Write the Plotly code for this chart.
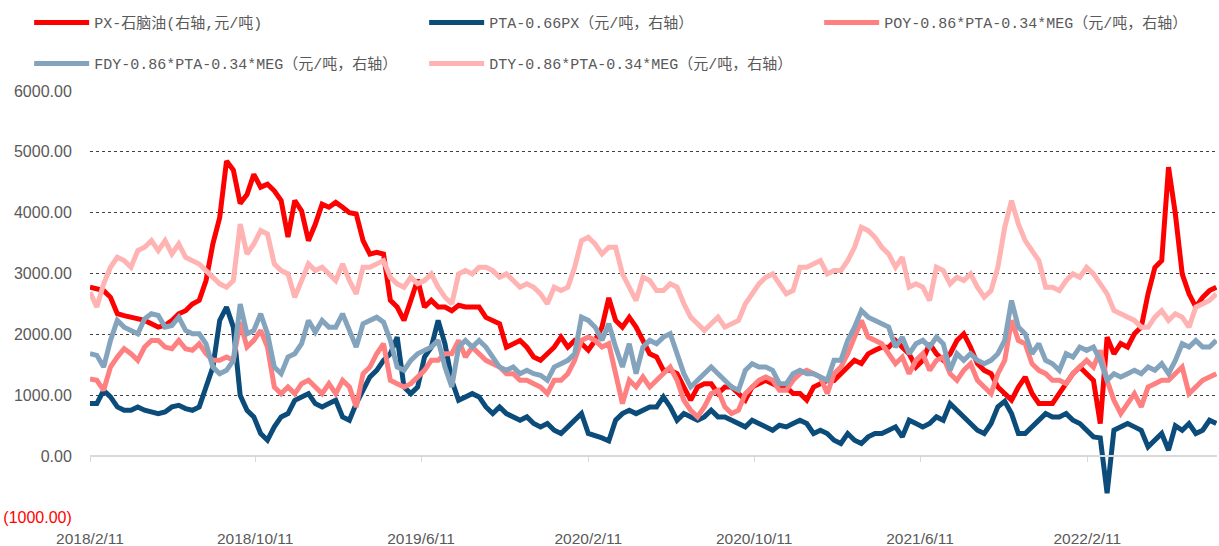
import pandas as pd
import plotly.graph_objects as go

# ---------------- data (10-day sampling grid starting 2018-02-11) ----------------
start_date = "2018-02-11"
step = "10D"

px_naphtha = [
    2776, 2750, 2720, 2610, 2340, 2310, 2280, 2260, 2230, 2175, 2120, 2150, 2230, 2340, 2390,
    2500, 2560, 2885, 3490, 3920, 4850, 4700, 4150, 4300, 4630, 4420, 4470, 4360, 4200,
    3600, 4200, 4030, 3540, 3810, 4140, 4090, 4170, 4090, 4000, 3980, 3540, 3320, 3350, 3320,
    2560, 2450, 2230, 2560, 2900, 2450, 2560, 2450, 2450, 2390, 2480, 2450,
    2450, 2450, 2280, 2230, 2175, 1790, 1850, 1900, 1790, 1630, 1575, 1680, 1790, 1955, 1790,
    1900, 1850, 1740, 1900, 2120, 2600, 2230, 2120, 2280, 2120, 1900, 1680,
    1630, 1410, 1410, 1355, 1135, 920, 1135, 1190, 1190, 1030, 1135, 1135, 1030, 920, 1135,
    1190, 1245, 1190, 1135, 1135, 1030, 1030, 920, 1135, 1190, 1245, 1245,
    1355, 1465, 1575, 1520, 1680, 1740, 1790, 1790, 1900, 1790, 1680, 1465, 1575, 1850, 1680,
    1575, 1680, 1900, 2010, 1790, 1520, 1410, 1355, 1135, 1030, 920, 1135,
    1300, 1030, 865, 865, 865, 1030, 1190, 1355, 1465, 1355, 1245, 536, 1955, 1680, 1850,
    1790, 2010, 2120, 2667, 3100, 3213, 4750, 3980, 2995, 2667, 2450, 2610, 2720, 2776,
]

pta_spread = [
    863, 863, 1080, 973, 809, 754, 754, 809, 754, 727, 699, 727, 809, 836, 781,
    754, 809, 1137, 1464, 2230, 2448, 2120, 1000, 754, 645, 372, 262, 481, 645,
    699, 918, 973, 1027, 863, 809, 863, 918, 645, 590, 863, 1082, 1301, 1410, 1574,
    1683, 1956, 1137, 1027, 1137, 1628, 1792, 2230, 1847, 1246, 918, 973,
    1027, 973, 809, 699, 809, 699, 645, 590, 645, 536, 481, 536, 426, 372, 481,
    590, 700, 372, 344, 300, 250, 590, 699, 754, 699, 754, 809,
    809, 973, 809, 590, 699, 645, 590, 645, 754, 645, 645, 590, 536, 481, 590,
    536, 481, 426, 508, 481, 536, 590, 536, 372, 426, 372, 262,
    208, 372, 262, 208, 317, 372, 372, 426, 481, 317, 590, 536, 481, 536, 645,
    590, 863, 754, 645, 536, 426, 372, 536, 809, 900, 699, 372,
    372, 481, 590, 699, 645, 645, 699, 590, 536, 426, 317, 300, -610, 426, 481,
    536, 481, 426, 153, 262, 372, 98, 500, 426, 536, 372, 426, 590, 536,
]

poy_spread = [
    1270, 1246, 1082, 1464, 1628, 1765, 1683, 1574, 1792, 1902, 1902, 1792, 1765, 1902, 1765,
    1738, 1847, 1683, 1574, 1574, 1628, 1574, 2200, 1792, 1902, 2066, 1792, 1137, 1027,
    1137, 1027, 1191, 1246, 1137, 1027, 1191, 1027, 1246, 1137, 809, 1355, 1464, 1683, 1847,
    1246, 1191, 1137, 1191, 1301, 1410, 1574, 1574, 1683, 1683, 1902, 1628,
    1792, 1683, 1574, 1519, 1464, 1355, 1355, 1246, 1246, 1191, 1137, 1027, 1246, 1246, 1355,
    1574, 1902, 1956, 1902, 1792, 1847, 1355, 863, 1246, 1137, 1301, 1137,
    1246, 1355, 1464, 1246, 918, 754, 645, 809, 1027, 1082, 809, 699, 754, 1027, 1137,
    1246, 1301, 1246, 1082, 1082, 1246, 1355, 1410, 1355, 1301, 1027, 1355,
    1464, 1683, 1956, 2230, 1956, 1902, 1847, 1683, 1519, 1628, 1355, 1574, 1683, 1410, 1574,
    1628, 1355, 1246, 1410, 1519, 1246, 1137, 1027, 1355, 1574, 2230, 1902,
    1847, 1519, 1410, 1355, 1246, 1246, 1191, 1355, 1464, 1574, 1464, 1738, 1246, 918, 699,
    863, 1027, 809, 1137, 1191, 1246, 1246, 1355, 1464, 1027, 1137, 1246, 1301, 1355,
]

fdy_spread = [
    1683, 1656, 1464, 1902, 2230, 2120, 2066, 2011, 2257, 2339, 2311, 2120, 2148, 2284, 2066,
    2011, 2011, 1847, 1464, 1355, 1410, 1574, 2500, 2011, 2066, 2339, 2011, 1464, 1355,
    1628, 1683, 1847, 2230, 2038, 2230, 2120, 2120, 2339, 2066, 1792, 2175, 2230, 2284, 2202,
    1902, 1464, 1410, 1574, 1683, 1738, 1792, 1902, 1464, 1137, 1792, 1902,
    1792, 1902, 1792, 1628, 1464, 1410, 1464, 1355, 1410, 1355, 1328, 1246, 1464, 1519, 1574,
    1683, 2284, 2230, 2120, 1902, 2175, 1792, 1464, 1847, 1355, 1792, 1902,
    1847, 1956, 2011, 1683, 1355, 1137, 1246, 1355, 1464, 1355, 1246, 1137, 1082, 1410, 1519,
    1464, 1464, 1410, 1191, 1191, 1355, 1410, 1355, 1355, 1301, 1246, 1574,
    1574, 1902, 2120, 2393, 2284, 2230, 2175, 2120, 1792, 1956, 1683, 1847, 1902, 1792, 1956,
    1847, 1410, 1683, 1574, 1683, 1574, 1519, 1574, 1683, 1902, 2557, 2120,
    2011, 1683, 1847, 1574, 1519, 1410, 1683, 1628, 1792, 1738, 1792, 1574, 1246, 1355, 1301,
    1355, 1410, 1355, 1464, 1410, 1519, 1355, 1574, 1847, 1792, 1902, 1792, 1792, 1902,
]

dty_spread = [
    2694, 2450, 2831, 3104, 3268, 3213, 3104, 3377, 3432, 3541, 3377, 3541, 3322, 3486, 3268,
    3213, 3158, 3049, 2940, 2831, 2776, 2885, 3814, 3322, 3486, 3705, 3650, 3158, 3049,
    2995, 2612, 2885, 3158, 3049, 3104, 2995, 2885, 3158, 2885, 2667, 3104, 3104, 3158, 3213,
    2940, 2831, 2776, 2940, 2831, 2885, 2995, 2776, 2612, 2503, 2995, 3049,
    2995, 3104, 3104, 3049, 2940, 2995, 2885, 2776, 2831, 2776, 2667, 2503, 2776, 2721, 2776,
    3104, 3541, 3596, 3486, 3322, 3432, 3432, 2995, 2776, 2557, 2940, 2885,
    2721, 2721, 2831, 2776, 2503, 2284, 2175, 2066, 2175, 2284, 2120, 2175, 2230, 2503, 2667,
    2831, 2940, 2995, 2831, 2667, 2721, 3104, 3104, 3158, 3213, 2995, 3049,
    3049, 3213, 3432, 3760, 3705, 3596, 3432, 3322, 3104, 3268, 2776, 2831, 2776, 2557, 3104,
    3049, 2831, 2940, 2885, 2995, 2776, 2612, 2721, 3104, 3760, 4197, 3814,
    3541, 3377, 3213, 2776, 2776, 2721, 2885, 2995, 2940, 3104, 2995, 2831, 2667, 2393, 2339,
    2284, 2230, 2120, 2120, 2284, 2393, 2230, 2339, 2284, 2120, 2448, 2503, 2557, 2667,
]

series_names = [
    "PX-石脑油(右轴,元/吨)",
    "PTA-0.66PX（元/吨，右轴）",
    "POY-0.86*PTA-0.34*MEG（元/吨，右轴）",
    "FDY-0.86*PTA-0.34*MEG（元/吨，右轴）",
    "DTY-0.86*PTA-0.34*MEG（元/吨，右轴）",
]
series_values = [px_naphtha, pta_spread, poy_spread, fdy_spread, dty_spread]
series_colors = ["#FF0000", "#0B4C7A", "#FF8080", "#84A4BE", "#FFB3B3"]
series_legend = ["legend", "legend", "legend", "legend2", "legend2"]

x_tick_dates = ["2018-02-11", "2018-10-11", "2019-06-11", "2020-02-11",
                "2020-10-11", "2021-06-11", "2022-02-11"]
x_tick_text = ["2018/2/11", "2018/10/11", "2019/6/11", "2020/2/11",
               "2020/10/11", "2021/6/11", "2022/2/11"]
y_tick_vals = [-1000, 0, 1000, 2000, 3000, 4000, 5000, 6000]
y_tick_text = ["<span style='color:#FF0000'>(1000.00)</span>", "0.00", "1000.00", "2000.00",
               "3000.00", "4000.00", "5000.00", "6000.00"]
x_range = ["2018-02-11", "2022-08-20"]
y_range = [-1000, 6000]

dates = pd.date_range(start_date, periods=len(px_naphtha), freq=step)

# ---------------- figure ----------------
fig = go.Figure()
for name, vals, color, lg in zip(series_names, series_values, series_colors, series_legend):
    fig.add_trace(go.Scatter(
        x=dates, y=vals, mode="lines", name=name,
        line=dict(color=color, width=5, shape="linear"),
        legend=lg,
    ))

x_font = dict(family="Liberation Sans, Arial, sans-serif", size=15.5, color="#595959")
y_font = dict(family="Liberation Sans, Arial, sans-serif", size=16, color="#595959")
legend_font = dict(family="Liberation Mono, Noto Sans CJK SC, monospace", size=15, color="#595959")

legend_common = dict(orientation="h", x=-0.054, xanchor="left", yanchor="middle",
                     entrywidth=325, entrywidthmode="pixels", itemwidth=55,
                     font=legend_font, bgcolor="rgba(0,0,0,0)", borderwidth=0,
                     traceorder="normal")

fig.update_layout(
    template="none",
    width=1219, height=546,
    margin=dict(l=90, r=2, t=91, b=29),
    paper_bgcolor="white", plot_bgcolor="white",
    showlegend=True,
    legend=dict(y=1.16, **legend_common),
    legend2=dict(y=1.064, **legend_common),
    xaxis=dict(
        type="date", range=x_range, tickmode="array",
        tickvals=x_tick_dates, ticktext=x_tick_text,
        anchor="free", position=1 / 7,
        showline=True, linecolor="#D9D9D9", linewidth=2,
        ticks="outside", ticklen=5, tickcolor="#D9D9D9", tickwidth=1,
        showgrid=False, zeroline=False,
        tickfont=x_font, ticklabelstandoff=63, automargin=False,
    ),
    yaxis=dict(
        range=y_range, tickmode="array", tickvals=y_tick_vals, ticktext=y_tick_text,
        showgrid=True, gridcolor="#404040", griddash="dot", gridwidth=1,
        zeroline=False, showline=False,
        ticks="outside", ticklen=14, tickcolor="rgba(0,0,0,0)",
        tickfont=y_font, automargin=False,
    ),
)

fig.write_html("out.html", config={"displayModeBar": False},
               post_script="document.body.style.margin='0px';")
